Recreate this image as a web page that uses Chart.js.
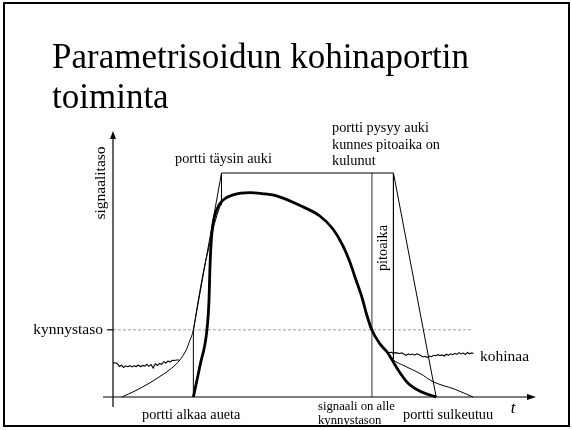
<!DOCTYPE html>
<html>
<head>
<meta charset="utf-8">
<script src="https://cdn.jsdelivr.net/npm/chart.js@4.4.0/dist/chart.umd.min.js"></script>
<style>
  html, body { margin: 0; padding: 0; background: #fff; }
  #wrap { position: relative; width: 572px; height: 430px; }
  #wrap canvas { position: absolute; left: 0; top: 0; }
  #frame { position: absolute; left: 3px; top: 2px; width: 563px; height: 421px; border: 2px solid #000; pointer-events: none; }
</style>
</head>
<body>
<div id="wrap">
  <canvas id="gate" width="572" height="430"></canvas>
  <div id="frame"></div>
</div>
<script>
/* Noise gate timing diagram — time (x) vs signal level (y), gate fully open = 100 */

const THRESHOLD = 30;
const GATE_MAX = 100;
const T_GATE_START = 19.0;   // portti alkaa aueta
const T_GATE_FULL = 25.65;   // portti täysin auki
const T_BELOW = 61.2;        // signaali on alle kynnystason
const T_HOLD_END = 66.3;     // pitoaika kulunut
const T_GATE_CLOSED = 76.4;  // portti sulkeutuu

// gated output (thick)
const outT = [19.0, 20.6, 22.2, 22.7, 22.9, 23.2, 23.6, 24.5, 26.0, 28.4, 32.4, 35.2, 38.3, 44.2, 48.9, 52.0, 54.4, 56.0, 57.2, 58.9, 60.0, 61.2, 63.1, 64.8, 66.0, 67.4, 69.7, 73.0, 76.4];
const outL = [0, 14.3, 29.9, 43.3, 56.7, 68.8, 76.8, 83.5, 87.9, 90.2, 91.2, 90.8, 90.0, 85.5, 80.8, 75.0, 67.4, 60.3, 53.6, 44.2, 36.6, 29.9, 23.7, 20.1, 16.5, 12.1, 6.3, 2.2, 0];

// input signal envelope (thin), rising and decaying parts
const inRiseT = [2.1, 5.2, 8.7, 11.6, 13.9, 15.8, 17.3, 18.2, 19.0, 19.9, 20.8, 21.7, 22.7, 23.6, 24.6, 25.5];
const inRiseL = [0, 2.7, 6.3, 9.8, 12.9, 16.5, 21.0, 25.4, 29.9, 40.2, 50.0, 58.9, 67.0, 74.6, 81.3, 86.2];
const inFallT = [63.1, 64.8, 66.0, 69.0, 72.6, 75.7, 80.9, 85.1];
const inFallL = [23.7, 20.1, 17.0, 13.8, 10.5, 6.8, 3.4, 0];

// background noise before and after the signal
const noiseLT = [0, 0.5, 1.0, 1.5, 2.0, 2.5, 3.0, 3.5, 4.0, 4.5, 5.0, 5.5, 6.0, 6.5, 7.0, 7.5, 8.0, 8.5, 9.0, 9.5, 10.0, 10.5, 11.0, 11.5, 12.0, 12.5, 13.0, 13.5, 14.0, 14.5, 15.0, 15.6];
const noiseLL = [15.2, 15.3, 15.0, 13.6, 14.2, 13.2, 13.9, 13.5, 14.0, 13.4, 13.9, 13.6, 14.3, 13.5, 14.1, 13.8, 14.6, 13.7, 14.5, 12.9, 14.8, 14.1, 15.0, 14.6, 15.8, 15.2, 16.0, 15.7, 16.4, 16.3, 16.5, 16.5];
const noiseRT = [64.8, 65.3, 65.8, 66.3, 66.8, 67.3, 67.8, 68.3, 68.8, 69.3, 69.8, 70.3, 70.8, 71.3, 71.8, 72.3, 72.8, 73.3, 73.8, 74.3, 74.8, 75.3, 75.8, 76.3, 76.8, 77.3, 77.8, 78.3, 78.8, 79.3, 79.8, 80.3, 80.8, 81.3, 81.8, 82.3, 82.8, 83.3, 83.8, 84.3, 84.8, 85.2];
const noiseRL = [20.1, 19.9, 20.0, 19.5, 19.8, 19.6, 19.4, 19.7, 19.1, 18.6, 19.3, 18.9, 19.2, 18.7, 19.3, 19.0, 18.4, 17.9, 18.2, 17.6, 18.3, 18.0, 18.6, 18.4, 18.9, 18.5, 18.8, 18.3, 19.1, 18.6, 19.3, 18.9, 19.5, 19.0, 19.8, 19.2, 19.6, 19.0, 19.9, 19.3, 19.7, 19.4];

// gate gain trapezoid and the marker lines
const gateT = [T_GATE_START, T_GATE_START, T_GATE_FULL, T_HOLD_END, T_GATE_CLOSED];
const gateL = [0, THRESHOLD, GATE_MAX, GATE_MAX, 0];
const fullMarkL = [GATE_MAX, 85.7];
const holdMarkL = [GATE_MAX, 17.0];
const threshT = [0, 85.1];

const pts = (ts, ls) => ts.map((t, i) => ({ x: t, y: ls[i] }));
const SERIF = "'Liberation Serif', 'Times New Roman', serif";

function line(data, extra) {
  return Object.assign({
    data, showLine: true, pointRadius: 0, borderColor: '#000', borderWidth: 1,
    tension: 0, clip: false, order: 2,
  }, extra);
}

const annotate = {
  id: 'annotate',
  afterDatasetsDraw(chart) {
    const { ctx, scales: { x, y } } = chart;
    const x0 = x.getPixelForValue(0), y0 = y.getPixelForValue(0);
    const yTop = y.getPixelForValue(y.max), xEnd = x.getPixelForValue(x.max);
    ctx.save();
    ctx.strokeStyle = '#000'; ctx.fillStyle = '#000'; ctx.lineWidth = 1.2;
    // axes
    ctx.beginPath();
    ctx.moveTo(x0, y0 + 10); ctx.lineTo(x0, yTop + 6);
    ctx.moveTo(x0 - 10, y0); ctx.lineTo(xEnd - 7, y0);
    ctx.stroke();
    ctx.beginPath();
    ctx.moveTo(x0, yTop); ctx.lineTo(x0 - 3, yTop + 8); ctx.lineTo(x0 + 3, yTop + 8); ctx.closePath();
    ctx.moveTo(xEnd, y0); ctx.lineTo(xEnd - 9, y0 - 3); ctx.lineTo(xEnd - 9, y0 + 3); ctx.closePath();
    ctx.fill();
    // threshold tick
    const yTh = y.getPixelForValue(THRESHOLD);
    ctx.beginPath(); ctx.moveTo(x0 - 6, yTh); ctx.lineTo(x0, yTh); ctx.stroke();

    // texts
    ctx.textBaseline = 'alphabetic';
    ctx.font = `35px ${SERIF}`;
    ctx.textAlign = 'left';
    ctx.fillText('Parametrisoidun kohinaportin', 52, 68);
    ctx.fillText('toiminta', 52, 108);

    ctx.font = `15.5px ${SERIF}`;
    ctx.textAlign = 'right';
    ctx.fillText('kynnystaso', x0 - 10, yTh + 4);
    ctx.textAlign = 'left';
    ctx.fillText('kohinaa', 480, 361);

    ctx.save();
    ctx.translate(105, 183); ctx.rotate(-Math.PI / 2);
    ctx.textAlign = 'center';
    ctx.fillText('signaalitaso', 0, 0);
    ctx.restore();

    ctx.font = `14.3px ${SERIF}`;
    ctx.textAlign = 'left';
    ctx.fillText('portti täysin auki', 175, 163);
    ctx.fillText('portti pysyy auki', 332, 132);
    ctx.fillText('kunnes pitoaika on', 332, 148.5);
    ctx.fillText('kulunut', 332, 165);
    ctx.fillText('portti alkaa aueta', 142, 419);
    ctx.fillText('portti sulkeutuu', 403, 419);

    ctx.save();
    const xp = (x.getPixelForValue(T_BELOW) + x.getPixelForValue(T_HOLD_END)) / 2;
    ctx.translate(xp + 4, 248); ctx.rotate(-Math.PI / 2);
    ctx.textAlign = 'center';
    ctx.fillText('pitoaika', 0, 0);
    ctx.restore();

    ctx.font = `12.7px ${SERIF}`;
    ctx.fillText('signaali on alle', 318, 410);
    ctx.fillText('kynnystason', 318, 424);

    ctx.font = `italic 17px ${SERIF}`;
    ctx.textAlign = 'center';
    ctx.fillText('t', 513, 413);
    ctx.restore();
  }
};

new Chart(document.getElementById('gate'), {
  type: 'scatter',
  data: {
    datasets: [
      line(pts(outT, outL), { borderWidth: 2.8, cubicInterpolationMode: 'monotone', order: 0 }),
      line(pts(inRiseT, inRiseL), { cubicInterpolationMode: 'monotone', order: 1 }),
      line(pts(inFallT, inFallL), { cubicInterpolationMode: 'monotone', order: 1 }),
      line(pts(noiseLT, noiseLL), { borderWidth: 1.1 }),
      line(pts(noiseRT, noiseRL), { borderWidth: 1.1 }),
      line(pts(gateT, gateL)),
      line(pts([T_GATE_FULL, T_GATE_FULL], fullMarkL)),
      line(pts([T_HOLD_END, T_HOLD_END], holdMarkL)),
      line(pts([T_BELOW, T_BELOW], [GATE_MAX, 0]), { borderColor: '#808080', borderWidth: 1.6, order: 3 }),
      line(pts(threshT, [THRESHOLD, THRESHOLD]), { borderColor: '#8a8a8a', borderWidth: 0.8, borderDash: [3, 2], order: 4 }),
    ]
  },
  options: {
    responsive: false,
    animation: false,
    devicePixelRatio: 1,
    layout: { padding: { left: 113, right: 36, top: 131, bottom: 33 } },
    plugins: { legend: { display: false }, tooltip: { enabled: false } },
    scales: {
      x: { type: 'linear', min: 0, max: 100, display: false },
      y: { type: 'linear', min: 0, max: 118.75, display: false },
    },
  },
  plugins: [annotate],
});
</script>
</body>
</html>
